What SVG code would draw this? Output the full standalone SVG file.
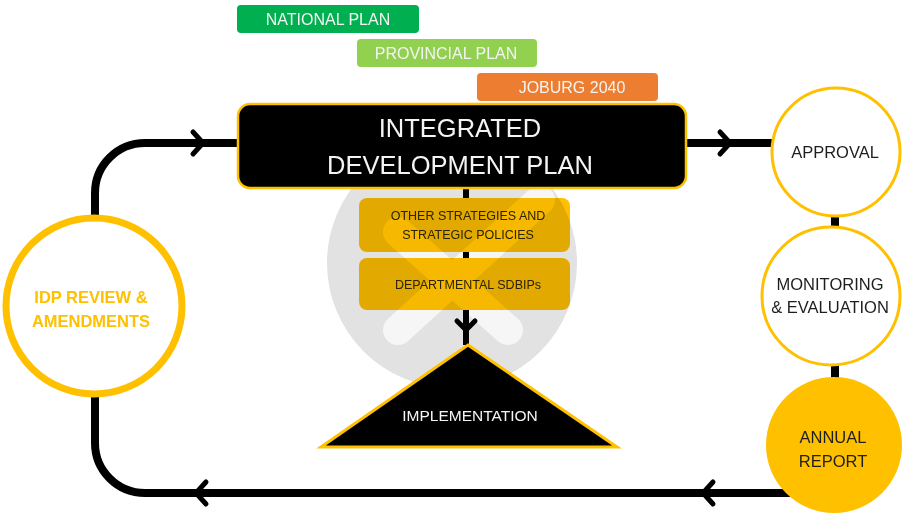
<svg xmlns="http://www.w3.org/2000/svg" width="905" height="518" viewBox="0 0 905 518">
<defs>
<style>
.t{font-family:"Liberation Sans",Arial,sans-serif;text-anchor:middle}
.line{fill:none;stroke:#000;stroke-width:8}
.chev{fill:none;stroke:#000;stroke-width:5;stroke-linecap:round;stroke-linejoin:round}
.bar{stroke:none}
.bartxt{fill:#f4f4f4;font-size:16px}
.ring{fill:#fff;stroke:#FFC000}
.dark{fill:#1e1e1e;font-size:16.5px}
.ybox{fill:#FFC000;mix-blend-mode:multiply}
.ytxt{fill:#2a2200;font-size:12.5px}
</style>
</defs>
<rect width="905" height="518" fill="#fff"/>

<g id="watermark">
<circle cx="452" cy="263" r="125" fill="#e2e2e2"/>
<g stroke="#f6f6f6" stroke-width="30" stroke-linecap="round" fill="none">
<line x1="398" y1="232" x2="508" y2="330"/>
<line x1="540" y1="200" x2="398" y2="330"/>
</g>
</g>

<g id="connectors">
<path class="line" d="M237,143 H145 A50,50 0 0 0 95,193 V220"/>
<path class="line" d="M95,392 V443 A50,50 0 0 0 145,493 H790"/>
<path class="line" d="M686,143 H772"/>
<path class="line" d="M835,214 V230"/>
<path class="line" d="M835,364 V380"/>
<path class="line" d="M466,188 V198 M466,252 V258 M466,310 V345" style="stroke-width:6"/>
<path class="chev" d="M193,132 L203,143 L193,154"/>
<path class="chev" d="M720,132 L730,143 L720,154"/>
<path class="chev" d="M206,482 L196,493 L206,504"/>
<path class="chev" d="M713,482 L703,493 L713,504"/>
<path class="chev" d="M457,321 L466,330 L475,321"/>
</g>

<g id="national-plan">
<rect class="bar" x="237" y="5" width="182" height="28" rx="4" fill="#00B050"/>
<text class="t bartxt" x="328" y="25">NATIONAL PLAN</text>
</g>
<g id="provincial-plan">
<rect class="bar" x="357" y="39" width="180" height="28" rx="4" fill="#92D050"/>
<text class="t bartxt" x="446" y="59">PROVINCIAL PLAN</text>
</g>
<g id="joburg-2040">
<rect class="bar" x="477" y="73" width="181" height="28" rx="4" fill="#ED7D31"/>
<text class="t bartxt" x="572" y="93">JOBURG 2040</text>
</g>

<g id="idp">
<rect x="238" y="104" width="448" height="84" rx="12" fill="#000" stroke="#FFC000" stroke-width="2.5"/>
<text class="t" x="460" y="137" fill="#f4f4f4" font-size="25.5">INTEGRATED</text>
<text class="t" x="460" y="174" fill="#f4f4f4" font-size="25.5">DEVELOPMENT PLAN</text>
</g>

<g id="other-strategies">
<rect class="ybox" x="359" y="198" width="211" height="54" rx="8"/>
<text class="t ytxt" x="468" y="220">OTHER STRATEGIES AND</text>
<text class="t ytxt" x="468" y="239">STRATEGIC POLICIES</text>
</g>
<g id="departmental-sdbips">
<rect class="ybox" x="359" y="258" width="211" height="52" rx="8"/>
<text class="t ytxt" x="468" y="289">DEPARTMENTAL SDBIPs</text>
</g>

<g id="implementation">
<polygon points="468,345 617,447 321,447" fill="#000" stroke="#FFC000" stroke-width="3" stroke-linejoin="miter"/>
<text class="t" x="470" y="421" fill="#f4f4f4" font-size="15.5">IMPLEMENTATION</text>
</g>

<g id="idp-review">
<circle class="ring" cx="94" cy="306" r="88" stroke-width="7"/>
<text class="t" x="91" y="303" fill="#FFC000" font-size="16.5" font-weight="bold">IDP REVIEW &amp;</text>
<text class="t" x="91" y="327" fill="#FFC000" font-size="16.5" font-weight="bold">AMENDMENTS</text>
</g>

<g id="approval">
<circle class="ring" cx="836" cy="152" r="64" stroke-width="3"/>
<text class="t dark" x="835" y="158">APPROVAL</text>
</g>

<g id="monitoring">
<circle class="ring" cx="831" cy="296" r="69" stroke-width="3"/>
<text class="t dark" x="830" y="290">MONITORING</text>
<text class="t dark" x="830" y="313">&amp; EVALUATION</text>
</g>

<g id="annual-report">
<circle cx="834" cy="445" r="68" fill="#FFC000"/>
<text class="t dark" x="833" y="443">ANNUAL</text>
<text class="t dark" x="833" y="467">REPORT</text>
</g>
</svg>
